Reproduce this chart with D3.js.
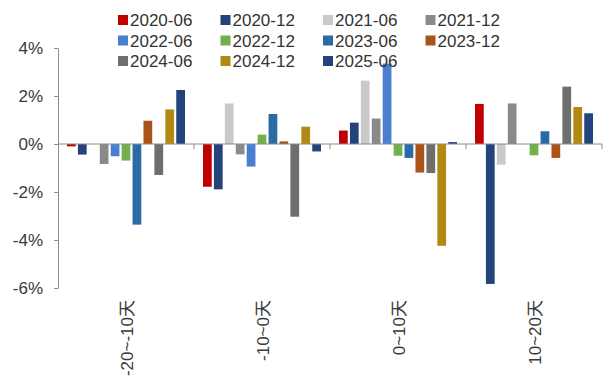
<!DOCTYPE html>
<html>
<head>
<meta charset="utf-8">
<script src="https://cdn.jsdelivr.net/npm/d3@7"></script>
<style>
	body { margin: 0; background: #fff; }
	text { font-family: "Liberation Sans", Arial, "Noto Sans CJK SC", sans-serif; }
</style>
</head>
<body>
<script>
// categories and series
var categories = ["-20~-10天", "-10~0天", "0~10天", "10~20天"];
var seriesNames = ["2020-06", "2020-12", "2021-06", "2021-12", "2022-06", "2022-12",
	"2023-06", "2023-12", "2024-06", "2024-12", "2025-06"];
var seriesColours = ["#c00000", "#23437a", "#c9c9c9", "#8a8a8a", "#4a7fd0", "#74b04c",
	"#2a6aa6", "#a9531a", "#6e6e6e", "#b08a12", "#23437e"];

// values (%) per series, one for each category
var v2020_06 = [-0.1, -1.78, 0.56, 1.67];
var v2020_12 = [-0.44, -1.89, 0.89, -5.83];
var v2021_06 = [0, 1.69, 2.64, -0.86];
var v2021_12 = [-0.83, -0.43, 1.06, 1.69];
var v2022_06 = [-0.51, -0.94, 3.35, 0];
var v2022_12 = [-0.69, 0.39, -0.49, -0.47];
var v2023_06 = [-3.36, 1.25, -0.58, 0.53];
var v2023_12 = [0.97, 0.11, -1.19, -0.58];
var v2024_06 = [-1.29, -3.03, -1.21, 2.39];
var v2024_12 = [1.44, 0.72, -4.24, 1.54];
var v2025_06 = [2.25, -0.31, 0.08, 1.28];

var seriesValues = [v2020_06, v2020_12, v2021_06, v2021_12, v2022_06, v2022_12,
	v2023_06, v2023_12, v2024_06, v2024_12, v2025_06];

var yTicks = [4, 2, 0, -2, -4, -6];

var svgDims = { width: 609, height: 384 };

var svg = d3.select("body").append("svg")
	.attr("width", svgDims.width)
	.attr("height", svgDims.height);

var x0 = d3.scaleBand().domain(categories).range([58, 602]).paddingInner(0).paddingOuter(0);
var x1 = d3.scaleBand().domain(seriesNames).range([9, 127]).paddingInner(0.2);
var y = d3.scaleLinear().domain([-6, 4]).range([288, 48]);

// flatten to one record per bar
var bars = [];
seriesNames.forEach(function(s, i) {
	categories.forEach(function(c, j) {
		bars.push({ series: s, cat: c, value: seriesValues[i][j], colour: seriesColours[i] });
	});
});

svg.append("g").selectAll("rect")
	.data(bars)
	.enter().append("rect")
	.attr("x", function(d) { return x0(d.cat) + x1(d.series); })
	.attr("width", x1.bandwidth())
	.attr("y", function(d) { return y(Math.max(0, d.value)); })
	.attr("height", function(d) { return Math.abs(y(d.value) - y(0)); })
	.attr("fill", function(d) { return d.colour; });

// y axis
var yAxis = svg.append("g")
	.attr("transform", "translate(58,0)")
	.call(d3.axisLeft(y).tickValues(yTicks).tickSize(4).tickSizeOuter(0)
		.tickFormat(function(d) { return d + "%"; }));
yAxis.select(".domain").attr("stroke", "#8c8c8c");
yAxis.selectAll(".tick line").attr("stroke", "#8c8c8c");
yAxis.selectAll(".tick text")
	.attr("x", -15)
	.attr("fill", "#3a3a3a")
	.style("font-size", "17px");

// x axis at zero
var xAxis = svg.append("g").attr("transform", "translate(0," + y(0) + ")");
xAxis.append("line")
	.attr("x1", 58).attr("x2", 602)
	.attr("stroke", "#8c8c8c");
xAxis.selectAll("line.tk")
	.data(categories)
	.enter().append("line")
	.attr("class", "tk")
	.attr("x1", function(d) { return x0(d) + x0.bandwidth(); })
	.attr("x2", function(d) { return x0(d) + x0.bandwidth(); })
	.attr("y1", 0).attr("y2", 5)
	.attr("stroke", "#8c8c8c");

// category labels, rotated
svg.selectAll("text.cat")
	.data(categories)
	.enter().append("text")
	.attr("class", "cat")
	.attr("transform", function(d) {
		return "translate(" + (x0(d) + x0.bandwidth() / 2 + 7) + ",300) rotate(-90)";
	})
	.attr("text-anchor", "end")
	.attr("fill", "#3a3a3a")
	.style("font-size", "17px")
	.text(function(d) { return d; });

// legend, 4 columns
var legend = svg.selectAll("g.leg")
	.data(seriesNames)
	.enter().append("g")
	.attr("class", "leg")
	.attr("transform", function(d, i) {
		return "translate(" + (118 + (i % 4) * 102.5) + "," + (20 + Math.floor(i / 4) * 20.5) + ")";
	});
legend.append("rect")
	.attr("x", 0).attr("y", -5)
	.attr("width", 10).attr("height", 10)
	.attr("fill", function(d, i) { return seriesColours[i]; });
legend.append("text")
	.attr("x", 12).attr("y", 6)
	.attr("fill", "#333")
	.style("font-size", "17px")
	.text(function(d) { return d; });
</script>
</body>
</html>
